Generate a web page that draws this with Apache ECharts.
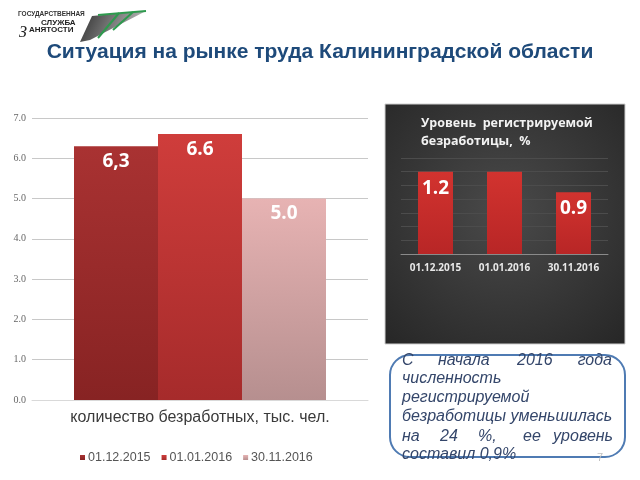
<!DOCTYPE html>
<html><head><meta charset="utf-8">
<script src="https://cdn.jsdelivr.net/npm/echarts@6/dist/echarts.min.js"></script>
<style>html,body{margin:0;padding:0;background:#fff}#c{width:640px;height:480px}</style>
</head><body><div id="c"></div>
<script>
// Left chart data
const leftCategory = ['количество безработных, тыс. чел.'];
const leftSeriesNames = ['01.12.2015', '01.01.2016', '30.11.2016'];
const leftValues = [6.3, 6.6, 5.0];
const leftDecimalSep = [',', '.', '.'];
const leftTicks = [0, 1, 2, 3, 4, 5, 6, 7];
// Right chart data
const rightCategories = ['01.12.2015', '01.01.2016', '30.11.2016'];
const rightValues = [1.2, 1.2, 0.9];
const rightShowLabel = [true, false, true];

const leftColors = [
  ['#a93232', '#872323'],
  ['#cf3d3b', '#a62b2b'],
  ['#e7b3b3', '#b68f8f']
];
function grad(c) {
  return new echarts.graphic.LinearGradient(0, 0, 0, 1, [{offset: 0, color: c[0]}, {offset: 1, color: c[1]}]);
}

const chart = echarts.init(document.getElementById('c'), null, {renderer: 'canvas'});

const leftSeries = leftSeriesNames.map((n, i) => ({
  name: n, type: 'bar', xAxisIndex: 0, yAxisIndex: 0,
  barWidth: 84, barGap: '0%',
  data: [leftValues[i]],
  itemStyle: {color: grad(leftColors[i])},
  label: {
    show: true, position: 'insideTop', distance: 6,
    color: '#fff', fontSize: 19, fontWeight: 'bold', fontFamily: 'Open Sans',
    formatter: p => p.value.toFixed(1).replace('.', leftDecimalSep[i])
  }
}));

const textColor = '#34466a';
const tf = 'Liberation Sans';
function word(x, y, t, align) {
  return {type: 'text', x: x, y: y, style: {text: t, fill: textColor, font: 'italic 16px ' + tf, textAlign: align || 'left', textVerticalAlign: 'middle'}};
}

const option = {
  animation: false,
  backgroundColor: '#fff',
  title: [
    {text: 'Ситуация на рынке труда Калининградской области', left: 'center', top: 37,
     textStyle: {color: '#1e4a7a', fontSize: 21, fontWeight: 'bold', fontFamily: tf}},
  ],
  legend: {
    data: leftSeriesNames, left: 75, top: 446, itemWidth: 5, itemHeight: 5, itemGap: 11,
    icon: 'rect', textStyle: {color: '#555', fontSize: 12.5, fontFamily: 'Liberation Sans', padding: [0, 0, 0, -2]}
  },
  graphic: [
    // dark panel
    {type: 'rect', z: -10, shape: {x: 385, y: 104, width: 240, height: 240},
     style: {fill: new echarts.graphic.RadialGradient(0.5, 0.45, 0.75, [{offset: 0, color: '#4a4a4a'}, {offset: 1, color: '#262626'}]),
             stroke: '#cfcfcf', lineWidth: 1}},
    {type: 'text', x: 421, y: 114, z: 5, style: {text: 'Уровень  регистрируемой\nбезработицы,  %', fill: '#f2f2f2', font: 'bold 12.5px Open Sans', lineHeight: 18}},
    // note box
    {type: 'rect', shape: {x: 390, y: 355, width: 235, height: 102, r: 20}, style: {fill: 'none', stroke: '#4f7bb3', lineWidth: 2}},
    word(402, 361, 'С'), word(438, 361, 'начала'), word(517, 361, '2016'), word(612, 361, 'года', 'right'),
    word(402, 379, 'численность'),
    word(402, 398, 'регистрируемой'),
    word(402, 417, 'безработицы уменьшилась'),
    word(402, 437, 'на'), word(440, 437, '24'), word(478, 437, '%,'), word(523, 437, 'ее'), word(613, 437, 'уровень', 'right'),
    word(402, 455, 'составил 0,9%'),
    {type: 'text', x: 597, y: 458, style: {text: '7', fill: '#c0c0c0', font: '11px Liberation Sans', textVerticalAlign: 'middle'}},
    // logo
    {type: 'polygon', shape: {points: [[92, 16], [146, 11], [90, 40], [80, 42]]},
     style: {fill: new echarts.graphic.LinearGradient(0, 0, 1, 1, [{offset: 0, color: '#2e2e2e'}, {offset: 1, color: '#d0d0d0'}])}},
    {type: 'polyline', shape: {points: [[98, 15], [146, 11]]}, style: {stroke: '#2e9a4e', lineWidth: 2}},
    {type: 'polyline', shape: {points: [[119, 13], [98, 38]]}, style: {stroke: '#2e9a4e', lineWidth: 2}},
    {type: 'polyline', shape: {points: [[133, 12], [113, 30]]}, style: {stroke: '#2e9a4e', lineWidth: 2}},
    {type: 'text', x: 18, y: 14, style: {text: 'ГОСУДАРСТВЕННАЯ', fill: '#333', font: 'bold 6.5px Liberation Sans', textVerticalAlign: 'middle'}},
    {type: 'text', x: 41, y: 23, style: {text: 'СЛУЖБА', fill: '#222', font: 'bold 8px Liberation Sans', textVerticalAlign: 'middle'}},
    {type: 'text', x: 19, y: 33, style: {text: 'З', fill: '#222', font: 'italic 16px Liberation Serif', textVerticalAlign: 'middle'}},
    {type: 'text', x: 29, y: 30, style: {text: 'АНЯТОСТИ', fill: '#222', font: 'bold 8px Liberation Sans', textVerticalAlign: 'middle'}}
  ],
  grid: [
    {left: 32, right: 272, top: 118, bottom: 80},
    {left: 401, right: 32, top: 158, bottom: 226}
  ],
  xAxis: [
    {type: 'category', gridIndex: 0, data: leftCategory,
     axisLine: {show: true, lineStyle: {color: '#d9d9d9'}}, axisTick: {show: false},
     axisLabel: {color: '#3a3a3a', fontSize: 16, fontFamily: 'Liberation Sans', margin: 10}},
    {type: 'category', gridIndex: 1, data: rightCategories,
     axisLine: {show: true, lineStyle: {color: '#8a8a8a'}}, axisTick: {show: false},
     axisLabel: {color: '#e8e8e8', fontSize: 10, fontWeight: 'bold', fontFamily: 'Open Sans', margin: 9, interval: 0}}
  ],
  yAxis: [
    {type: 'value', gridIndex: 0, min: leftTicks[0], max: leftTicks[leftTicks.length - 1], interval: 1,
     axisLine: {show: false}, axisTick: {show: false},
     splitLine: {lineStyle: {color: '#c8c8c8'}},
     axisLabel: {color: '#666', fontSize: 10, fontFamily: 'Liberation Serif', margin: 6, formatter: v => v.toFixed(1)}},
    {type: 'value', gridIndex: 1, min: 0, max: 1.4, interval: 0.2,
     axisLine: {show: false}, axisTick: {show: false}, axisLabel: {show: false},
     splitLine: {lineStyle: {color: '#4c4c4c'}}}
  ],
  series: leftSeries.concat([{
    name: 'rate', type: 'bar', xAxisIndex: 1, yAxisIndex: 1, barWidth: 35,
    data: rightValues.map((v, i) => ({value: v, label: {show: rightShowLabel[i]}})),
    itemStyle: {color: grad(['#d2332f', '#b82626'])},
    label: {show: true, position: 'insideTop', distance: 7, color: '#fff', fontSize: 19, fontWeight: 'bold', fontFamily: 'Open Sans',
            formatter: p => p.value.toFixed(1)}
  }])
};
chart.setOption(option);
</script></body></html>
